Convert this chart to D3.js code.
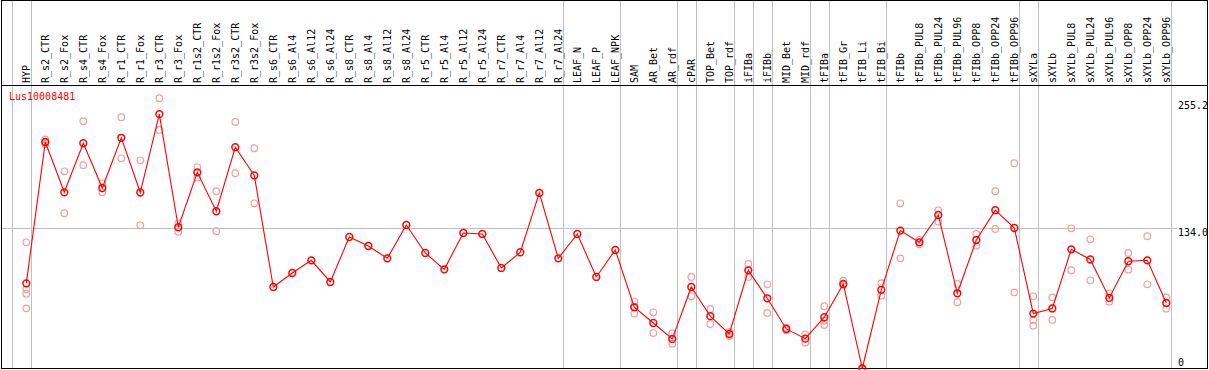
<!DOCTYPE html>
<html>
<head>
<meta charset="utf-8">
<script src="https://cdn.jsdelivr.net/npm/d3@7"></script>
<style>
html,body{margin:0;padding:0;background:#fff;}
svg{display:block;}
text{font-family:"DejaVu Sans Mono",monospace;font-size:10px;}
</style>
</head>
<body>
<script>
const categories = ["HYP","R_s2_CTR","R_s2_Fox","R_s4_CTR","R_s4_Fox","R_r1_CTR","R_r1_Fox","R_r3_CTR","R_r3_Fox","R_r1s2_CTR","R_r1s2_Fox","R_r3s2_CTR","R_r3s2_Fox","R_s6_CTR","R_s6_Al4","R_s6_Al12","R_s6_Al24","R_s8_CTR","R_s8_Al4","R_s8_Al12","R_s8_Al24","R_r5_CTR","R_r5_Al4","R_r5_Al12","R_r5_Al24","R_r7_CTR","R_r7_Al4","R_r7_Al12","R_r7_Al24","LEAF_N","LEAF_P","LEAF_NPK","SAM","AR_Bet","AR_rdf","cPAR","TOP_Bet","TOP_rdf","iFIBa","iFIBb","MID_Bet","MID_rdf","tFIBa","tFIB_Gr","tFIB_Li","tFIB_Bi","tFIBb","tFIBb_PUL8","tFIBb_PUL24","tFIBb_PUL96","tFIBb_OPP8","tFIBb_OPP24","tFIBb_OPP96","sXYLa","sXYLb","sXYLb_PUL8","sXYLb_PUL24","sXYLb_PUL96","sXYLb_OPP8","sXYLb_OPP24","sXYLb_OPP96"];

const means = [81.4,216.5,168.4,215.3,172.5,220.5,168.2,243.1,135.0,187.5,150.3,211.5,184.5,77.9,91.3,103.4,82.7,125.7,117.1,105.3,137.2,110.4,94.8,129.5,128.6,96.1,111.1,167.8,105.3,128.6,87.5,113.3,58.5,43.5,28.3,77.9,50.0,33.0,93.8,67.1,37.8,28.5,49.0,80.8,0,75.2,131.8,120.6,146.7,71.9,122.8,151.3,134.3,52.5,57.4,113.9,104.2,67.5,102.5,103.4,62.6];

const rep1 = [120.6,219,188.5,236.3,177,240.2,199,258.3,138.8,192.3,169.4,235.7,210.5,null,null,null,null,null,null,null,null,null,null,null,null,null,null,null,null,null,null,null,64,53.7,33.7,87.5,56.9,35,99.9,80.5,39,32.7,59.5,83.9,0,81.5,157.9,122.8,151.2,80.8,128.6,169.4,196.2,69,68,134,123.5,71.9,110.4,126.4,68];
const rep2 = [75.7,216,148.4,194.3,168.4,200.9,136.9,228,130.8,182.4,131.2,186.6,157.9,null,null,null,null,null,null,null,null,null,null,null,null,null,null,null,null,null,null,null,59,33.9,28,69,42.5,31,87.5,53.1,36.5,24.7,45.7,79.8,0,69.6,105.3,118.7,140.4,63.3,117.4,133.4,72.8,46.4,46.4,93.9,84.3,63.9,94.5,80.5,57.2];
const rep3 = [71.5,214.5,null,null,null,null,null,null,null,null,null,null,null,null,null,null,null,null,null,null,null,null,null,null,null,null,null,null,null,null,null,null,52.5,null,23.7,null,null,null,null,null,null,null,41.6,null,null,null,null,null,null,null,null,null,null,40.9,null,null,null,null,null,null,null];
const rep4 = [57.5];

const groupEnds = [-1,0,28,31,34,35,37,38,39,41,42,45,52,53,60];
const yTicks = [255.2,134.0,0];
const title = "Lus10008481";

const W = 1209, H = 370;
const svg = d3.select("body").append("svg").attr("width",W).attr("height",H);

const idx = d3.range(categories.length);
const x = d3.scaleLinear().domain([0, categories.length-1]).range([26.3, 1166.3]);
const y = d3.scaleLinear().domain([0, 255.2]).range([368.5, 101.5]);

// vertical separators
svg.append("g").selectAll("line").data(groupEnds).join("line")
  .attr("x1", d => Math.round(x(d)+4.4)+0.5).attr("x2", d => Math.round(x(d)+4.4)+0.5)
  .attr("y1", 0).attr("y2", 369)
  .attr("stroke","#c0c0c0").attr("stroke-width",1);

// horizontal grid at 134
svg.append("line").attr("x1",1).attr("x2",1177)
  .attr("y1",Math.round(y(134))+0.5).attr("y2",Math.round(y(134))+0.5)
  .attr("stroke","#c0c0c0").attr("stroke-width",1);

// frame
svg.append("rect").attr("x",1.5).attr("y",0.5).attr("width",1206).attr("height",368)
  .attr("fill","none").attr("stroke","#000").attr("stroke-width",1);
svg.append("line").attr("x1",1).attr("x2",1208).attr("y1",85.5).attr("y2",85.5)
  .attr("stroke","#000").attr("stroke-width",1);

// category labels
svg.append("g").selectAll("text").data(categories).join("text")
  .attr("transform",(d,i)=>`translate(${x(i)+3.7},83) rotate(-90)`)
  .attr("fill","#000").text(d=>d);

// y tick labels
svg.append("g").selectAll("text").data(yTicks).join("text")
  .attr("x",1178)
  .attr("y",d => d===0 ? y(d)-2.5 : y(d)+7.8)
  .attr("fill","#000")
  .text(d => d===0 ? "0" : d.toFixed(1));

// title
svg.append("text").attr("x",9).attr("y",100).attr("fill","#ff0000").text(title);

// replicates
const reps = [];
[rep1,rep2,rep3,rep4].forEach(arr => arr.forEach((v,i)=>{ if(v!==null && v!==undefined) reps.push({i:i,v:v}); }));
svg.append("g").selectAll("circle").data(reps).join("circle")
  .attr("cx",d=>x(d.i)).attr("cy",d=>y(d.v)).attr("r",3.3)
  .attr("fill","none").attr("stroke","#f0a0a0").attr("stroke-width",1.2);

// mean line
svg.append("path").datum(idx)
  .attr("d", d3.line().x(i=>x(i)).y(i=>y(means[i])))
  .attr("fill","none").attr("stroke","#ff0000").attr("stroke-width",1.1);

// mean circles
svg.append("g").selectAll("circle").data(idx).join("circle")
  .attr("cx",i=>x(i)).attr("cy",i=>y(means[i])).attr("r",3.4)
  .attr("fill","none").attr("stroke","#ff0000").attr("stroke-width",1.5);
</script>
</body>
</html>
